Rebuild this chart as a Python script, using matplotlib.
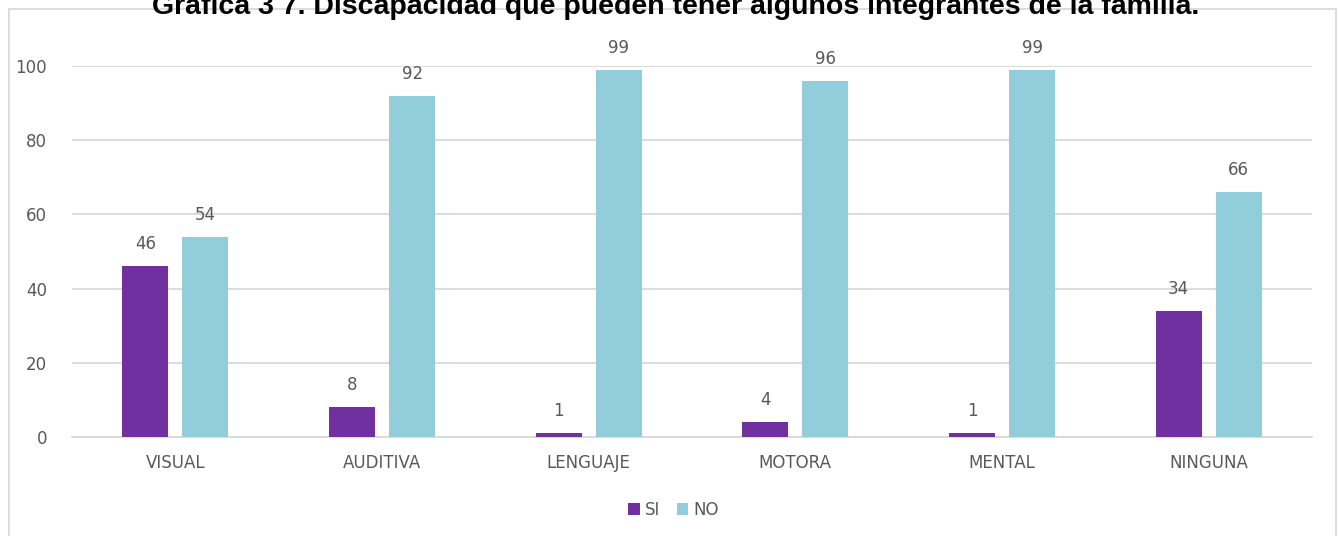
import matplotlib.pyplot as plt
import matplotlib.patches as patches
import numpy as np

categorias = ["VISUAL", "AUDITIVA", "LENGUAJE", "MOTORA", "MENTAL", "NINGUNA"]
si = [46, 8, 1, 4, 1, 34]
no = [54, 92, 99, 96, 99, 66]
titulo = "Gráfica 3 7. Discapacidad que pueden tener algunos integrantes de la familia."

col_si = "#7030A0"
col_no = "#92CDDC"
gris = "#595959"

fig = plt.figure(figsize=(13.38, 5.36), dpi=100)
ax = fig.add_axes([0.0538, 0.1847, 0.9268, 0.6922])

x = np.arange(len(categorias))
w = 0.223
off = 0.1455
b1 = ax.bar(x - off, si, w, color=col_si, label="SI", zorder=3)
b2 = ax.bar(x + off, no, w, color=col_no, label="NO", zorder=3)

for bars in (b1, b2):
    for b in bars:
        ax.text(b.get_x() + b.get_width() / 2, b.get_height() + 3.5,
                "{:d}".format(int(b.get_height())), ha="center", va="bottom",
                fontsize=12, color=gris, clip_on=False)

ax.set_xlim(-0.5, len(categorias) - 0.5)
ax.set_ylim(0, 100)
ax.set_yticks(range(0, 101, 20))
ax.set_xticks(x)
ax.set_xticklabels(categorias)
ax.tick_params(axis="both", length=0, labelsize=12, labelcolor=gris)
ax.tick_params(axis="y", pad=18)
ax.tick_params(axis="x", pad=12)
ax.grid(axis="y", color="#D9D9D9", linewidth=1.3, zorder=0)
for s in ["top", "right", "left"]:
    ax.spines[s].set_visible(False)
ax.spines["bottom"].set_color("#D9D9D9")
ax.spines["bottom"].set_linewidth(1.3)

ax.legend(loc="center", bbox_to_anchor=(0.485, -0.197), ncol=2, frameon=False,
          fontsize=12, labelcolor=gris, handlelength=0.7, handleheight=0.7,
          handletextpad=0.3, columnspacing=1.0)

# marco del grafico
fig.patches.append(patches.Rectangle((0.0067, -0.1), 0.9918, 1.083,
                                     transform=fig.transFigure, fill=False,
                                     edgecolor="#D9D9D9", linewidth=1.3))

fig.text(0.505, 1 - 14 / 536, titulo, ha="center", va="baseline",
         fontsize=20.5, fontweight="bold", family="Liberation Sans")

fig.savefig("out.png", dpi=100)
